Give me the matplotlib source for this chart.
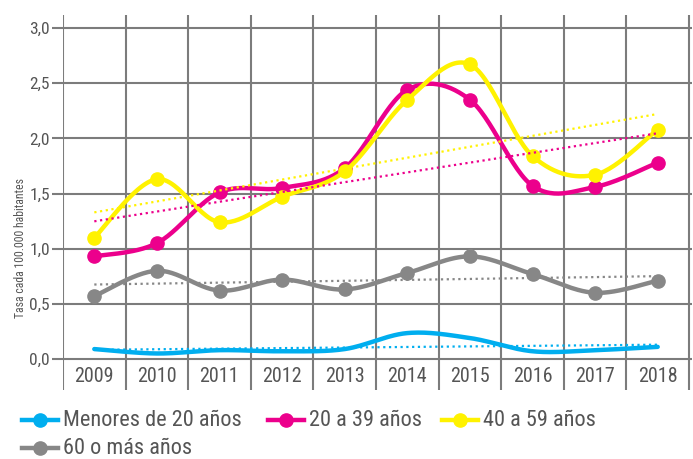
import matplotlib
matplotlib.use('Agg')
import matplotlib.pyplot as plt
from matplotlib.lines import Line2D
import numpy as np

plt.rcParams['font.family'] = ['Roboto Condensed', 'DejaVu Sans']

years = ['2009', '2010', '2011', '2012', '2013', '2014', '2015', '2016', '2017', '2018']
menores_20 = [0.09, 0.05, 0.08, 0.07, 0.09, 0.235, 0.19, 0.07, 0.08, 0.11]
a_20_39 = [0.93, 1.05, 1.51, 1.55, 1.73, 2.44, 2.35, 1.57, 1.56, 1.78]
a_40_59 = [1.10, 1.63, 1.24, 1.47, 1.70, 2.35, 2.67, 1.84, 1.67, 2.08]
mas_60 = [0.57, 0.80, 0.62, 0.72, 0.63, 0.78, 0.93, 0.77, 0.60, 0.71]

series_labels = ['Menores de 20 años', '20 a 39 años', '40 a 59 años', '60 o más años']
colors = ['#00aeef', '#ec008c', '#fff200', '#878787']

grid_c = '#7c7c7c'
text_c = '#555555'


def smooth(x, y, n=30):
    # catmull-rom style curve through the points (like excel "smoothed line")
    x = np.asarray(x, float)
    y = np.asarray(y, float)
    px = np.concatenate([[x[0]], x, [x[-1]]])
    py = np.concatenate([[y[0]], y, [y[-1]]])
    xs, ys = [], []
    t = np.linspace(0, 1, n)
    for i in range(1, len(px) - 2):
        p0 = np.array([px[i], py[i]])
        p3 = np.array([px[i + 1], py[i + 1]])
        c1 = p0 + (p3 - np.array([px[i - 1], py[i - 1]])) / 6
        c2 = p3 - (np.array([px[i + 2], py[i + 2]]) - p0) / 6
        b = ((1 - t) ** 3)[:, None] * p0 + (3 * (1 - t) ** 2 * t)[:, None] * c1 \
            + (3 * (1 - t) * t ** 2)[:, None] * c2 + (t ** 3)[:, None] * p3
        xs.extend(b[:, 0])
        ys.extend(b[:, 1])
    return np.array(xs), np.array(ys)


fig = plt.figure(figsize=(6.93, 4.59), dpi=100)
ax = fig.add_axes([63 / 693, 1 - 390 / 459, 629 / 693, 375 / 459])
ax.set_xlim(-0.5, -0.5 + 629 / 62.6)
ax.set_ylim(-0.281, 3.118)
for s in ax.spines.values():
    s.set_visible(False)

x = np.arange(len(years))

# grid
for yv in [0, 0.5, 1.0, 1.5, 2.0, 2.5, 3.0]:
    ax.axhline(yv, color=grid_c, lw=1.5, zorder=1)
ax.vlines(np.arange(len(years) + 1) - 0.5, -0.281, 3.118, color=grid_c, lw=1.5, zorder=1)

ax.set_xticks([])
ax.set_yticks([0, 0.5, 1.0, 1.5, 2.0, 2.5, 3.0])
ax.set_yticklabels(['0,0', '0,5', '1,0', '1,5', '2,0', '2,5', '3,0'])
ax.tick_params(axis='y', length=8, width=1.5, color=grid_c, labelcolor=text_c,
               labelsize=12.5, pad=1.5)

for i, yr in enumerate(years):
    ax.text(i, -0.16, yr, ha='center', va='center', fontsize=14.5, color=text_c)

data = [menores_20, a_20_39, a_40_59, mas_60]
order = [3, 0, 2, 1]
for k in order:
    vals = data[k]
    sx, sy = smooth(x, vals)
    ax.plot(sx, sy, color=colors[k], lw=3.2, solid_capstyle='round', zorder=3 + k * 0.1)
    if k != 0:
        ax.plot(x, vals, 'o', color=colors[k], ms=9.5, zorder=3 + k * 0.1)
    # linear trend
    m, b = np.polyfit(x, vals, 1)
    ax.plot([x[0], x[-1]], [m * x[0] + b, m * x[-1] + b], color=colors[k], lw=1.6,
            ls=(0, (1, 1.6)), zorder=4)

fig.text(21 / 693, 1 - 248 / 459, 'Tasa cada 100.000 habitantes', rotation=90,
         ha='center', va='center', fontsize=8.5, color=text_c)

# legend
leg_items = [(22, 420, 0), (268, 420, 1), (442, 420, 2), (22, 448, 3)]
for lx, ly, k in leg_items:
    fy = 1 - ly / 459
    fig.add_artist(Line2D([lx / 693, (lx + 36) / 693], [fy, fy], color=colors[k], lw=3.2,
                          transform=fig.transFigure))
    fig.add_artist(Line2D([(lx + 18) / 693], [fy], marker='o', ms=9.5, color=colors[k],
                          transform=fig.transFigure))
    fig.text((lx + 41) / 693, fy, series_labels[k], ha='left', va='center',
             fontsize=16, color=text_c)

fig.savefig('out.png', dpi=100)
